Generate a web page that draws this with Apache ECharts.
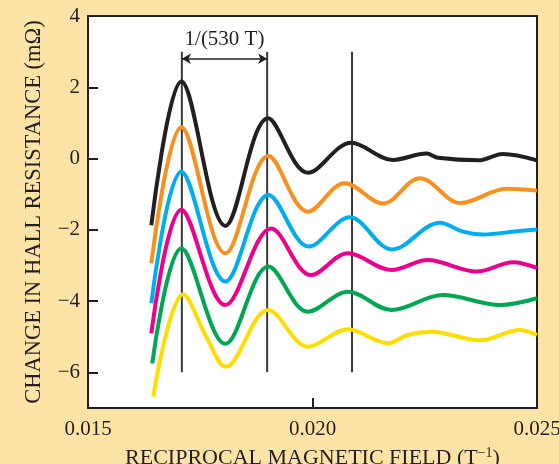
<!DOCTYPE html>
<html>
<head>
<meta charset="utf-8">
<script src="https://cdn.jsdelivr.net/npm/echarts@6/dist/echarts.min.js"></script>
<style>
html, body { margin: 0; padding: 0; background: #fde4a6; }
#main { width: 559px; height: 464px; }
</style>
</head>
<body>
<div id="main"></div>
<script>
var myChart = echarts.init(document.getElementById('main'));

// data, [1/B, dR] (start, peaks, troughs, a few bends)
var black = [[0.01641, -1.87], [0.01708, 2.16], [0.01806, -1.89], [0.01901, 1.13], [0.0199, -0.40], [0.02086, 0.44], [0.02179, -0.04], [0.02254, 0.14], [0.0228, 0.02], [0.0237, -0.05], [0.02424, 0.13], [0.025, -0.05]];
var orange = [[0.01641, -2.94], [0.01708, 0.88], [0.01806, -2.66], [0.01902, 0.07], [0.0199, -1.49], [0.02072, -0.69], [0.02157, -1.26], [0.02239, -0.55], [0.0233, -1.25], [0.02432, -0.85], [0.025, -0.90]];
var cyan = [[0.01641, -4.06], [0.01708, -0.37], [0.01806, -3.45], [0.01902, -1.02], [0.01992, -2.47], [0.02083, -1.65], [0.02177, -2.55], [0.02284, -1.80], [0.02335, -2.05], [0.0238, -2.13], [0.02455, -2.04], [0.025, -1.99]];
var magenta = [[0.01641, -4.9], [0.01708, -1.44], [0.01806, -4.11], [0.01908, -1.96], [0.01997, -3.27], [0.02079, -2.66], [0.02176, -3.13], [0.02256, -2.85], [0.02366, -3.17], [0.02447, -2.91], [0.025, -3.07]];
var green = [[0.01643, -5.75], [0.01708, -2.52], [0.01806, -5.2], [0.01902, -3.03], [0.0199, -4.30], [0.02079, -3.74], [0.02176, -4.25], [0.0229, -3.83], [0.02418, -4.11], [0.025, -3.92]];
var yellow = [[0.01645, -6.68], [0.01712, -3.81], [0.01767, -5.09], [0.01806, -5.84], [0.01901, -4.25], [0.0199, -5.28], [0.02079, -4.79], [0.02168, -5.18], [0.02212, -4.95], [0.02265, -4.86], [0.02373, -5.1], [0.02462, -4.81], [0.025, -4.95]];

var peakLines = [0.01709, 0.01899, 0.02088];
var peakLineRange = [-6, 3];
var arrowY = 2.8;
var periodLabel = '1/(530 T)';

var xTicks = [0.015, 0.020, 0.025];
var yTicks = [-6, -4, -2, 0, 2, 4];

var ink = '#231f20';
var font = 'Liberation Serif';

function curve(name, pts, color) {
    return {
        name: name,
        type: 'line',
        data: pts,
        smooth: 0.35,
        symbol: 'none',
        silent: true,
        z: 3,
        lineStyle: { color: color, width: 4 }
    };
}

var series = [];
for (var i = 0; i < peakLines.length; i++) {
    series.push({
        type: 'line',
        data: [[peakLines[i], peakLineRange[0]], [peakLines[i], peakLineRange[1]]],
        symbol: 'none',
        silent: true,
        z: 2,
        lineStyle: { color: '#3a3a3a', width: 2 }
    });
}
series.push(curve('a', black, '#231f20'));
series.push(curve('b', orange, '#f7901e'));
series.push(curve('c', cyan, '#00aeef'));
series.push(curve('d', magenta, '#ec008c'));
series.push(curve('e', green, '#00a651'));
series.push(curve('f', yellow, '#ffdd00'));

// the double arrow between the first two peaks
series[0].markLine = {
    silent: true,
    symbol: ['arrow', 'arrow'],
    symbolSize: [8, 9],
    lineStyle: { color: ink, width: 1.5, type: 'solid' },
    label: {
        show: true,
        position: 'middle',
        distance: 9,
        formatter: periodLabel,
        color: ink,
        fontFamily: font,
        fontSize: 21
    },
    data: [[{ coord: [peakLines[0], arrowY] }, { coord: [peakLines[1], arrowY] }]]
};

var option = {
    animation: false,
    backgroundColor: '#fde4a6',
    grid: {
        left: 88, right: 22, top: 16, bottom: 56,
        outerBoundsMode: 'none',
        containLabel: false,
        show: true,
        backgroundColor: '#ffffff',
        borderColor: ink,
        borderWidth: 2
    },
    xAxis: {
        type: 'value',
        min: 0.015,
        max: 0.025,
        name: 'RECIPROCAL MAGNETIC FIELD {s|(T}{sup|−1}{s|)}',
        nameLocation: 'middle',
        nameMoveOverlap: false,
        nameGap: 38,
        nameTextStyle: {
            color: ink, fontFamily: font, fontSize: 22,
            rich: {
                s: { color: ink, fontFamily: font, fontSize: 22 },
                sup: { color: ink, fontFamily: font, fontSize: 14, verticalAlign: 'top', padding: [0, 0, 10, 0] }
            }
        },
        splitLine: { show: false },
        axisLine: { onZero: false, lineStyle: { color: ink, width: 2 } },
        axisTick: { inside: true, length: 10, customValues: xTicks, lineStyle: { color: ink, width: 2 } },
        axisLabel: {
            customValues: xTicks,
            margin: 11,
            color: ink,
            fontFamily: font,
            fontSize: 21,
            formatter: function (v) { return v.toFixed(3); }
        }
    },
    yAxis: {
        type: 'value',
        min: -7,
        max: 4,
        name: 'CHANGE IN HALL RESISTANCE (mΩ)',
        nameLocation: 'middle',
        nameMoveOverlap: false,
        nameGap: 42,
        nameTextStyle: { color: ink, fontFamily: font, fontSize: 22.5 },
        splitLine: { show: false },
        axisLine: { onZero: false, lineStyle: { color: ink, width: 2 } },
        axisTick: { inside: true, length: 10, customValues: yTicks, lineStyle: { color: ink, width: 2 } },
        axisLabel: {
            customValues: yTicks,
            margin: 8,
            color: ink,
            fontFamily: font,
            fontSize: 21,
            formatter: function (v) { return v < 0 ? '−' + (-v) : '' + v; }
        }
    },
    series: series
};

myChart.setOption(option);
</script>
</body>
</html>
